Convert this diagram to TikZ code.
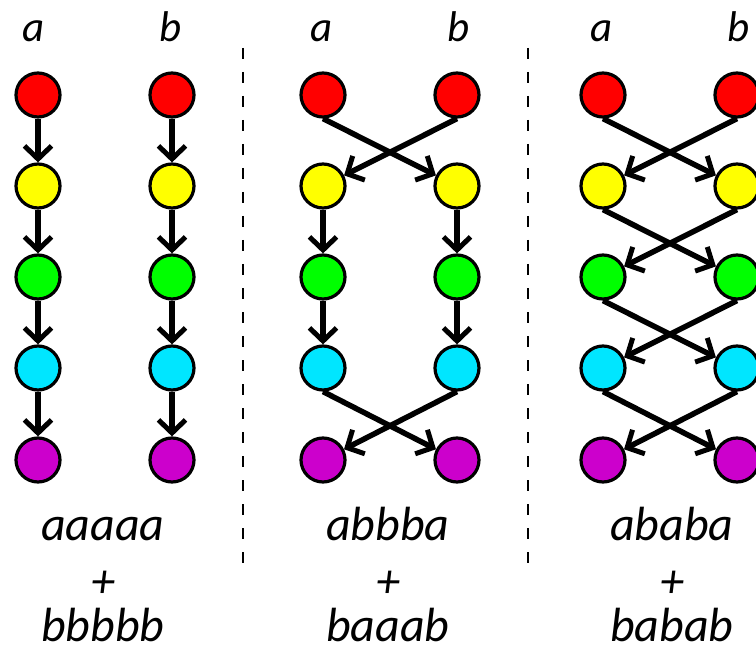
\documentclass[tikz,border=0pt]{standalone}
\usepackage{fontspec}
\setmainfont{Carlito}
\usetikzlibrary{arrows.meta}
\definecolor{cR}{RGB}{255,0,0}
\definecolor{cY}{RGB}{255,255,0}
\definecolor{cG}{RGB}{0,255,0}
\definecolor{cC}{RGB}{0,230,255}
\definecolor{cP}{RGB}{204,0,204}
\begin{document}
\begin{tikzpicture}[x=1pt,y=-1pt,
  ball/.style={circle,draw=black,line width=3.2pt,minimum size=44pt,inner sep=0pt},
  arr/.style={line width=5.5pt,-{Straight Barb[length=13pt,width=27pt,line width=5pt]}},
  lab/.style={anchor=base,font=\fontsize{43}{50}\selectfont\itshape,inner sep=0pt},
  word/.style={anchor=base,font=\fontsize{48}{55}\selectfont\itshape,inner sep=0pt},
  sep/.style={line width=2.8pt,dash pattern=on 11pt off 13pt}]
\useasboundingbox (0,0) rectangle (756,650);
% columns
\foreach \p/\xa/\xb in {1/38/172, 2/323/457, 3/603/737}{
  \foreach \r/\y/\c in {1/95/cR, 2/186/cY, 3/277/cG, 4/368/cC, 5/460/cP}{
    \node[ball,fill=\c] (p\p a\r) at (\xa,\y) {};
    \node[ball,fill=\c] (p\p b\r) at (\xb,\y) {};
  }
}
% top labels
\node[lab] (la1) at (34,42) {a};
\node[lab] (lb1) at (171,42) {b};
\node[lab] (la2) at (322,42) {a};
\node[lab] (lb2) at (459,42) {b};
\node[lab] (la3) at (602,42) {a};
\node[lab] (lb3) at (739,42) {b};
% panel 1
\foreach \i [evaluate=\i as \j using int(\i+1)] in {1,2,3,4}{
  \draw[arr] (p1a\i) -- (p1a\j);
  \draw[arr] (p1b\i) -- (p1b\j);
}
% panel 2
\draw[arr] (p2a1.south) -- (p2b2);
\draw[arr] (p2b1.south) -- (p2a2);
\draw[arr] (p2a2) -- (p2a3);
\draw[arr] (p2a3) -- (p2a4);
\draw[arr] (p2b2) -- (p2b3);
\draw[arr] (p2b3) -- (p2b4);
\draw[arr] (p2a4.south) -- (p2b5);
\draw[arr] (p2b4.south) -- (p2a5);
% panel 3
\foreach \i [evaluate=\i as \j using int(\i+1)] in {1,2,3,4}{
  \draw[arr] (p3a\i.south) -- (p3b\j);
  \draw[arr] (p3b\i.south) -- (p3a\j);
}
% separators
\coordinate (s1t) at (243,48); \coordinate (s1b) at (243,565);
\coordinate (s2t) at (528,48); \coordinate (s2b) at (528,565);
\draw[sep] (s1t) -- (s1b);
\draw[sep] (s2t) -- (s2b);
% bottom words
\node[word] (w1a) at (103,540) {aaaaa};
\node[word] (w1p) at (103,597) {+};
\node[word] (w1b) at (103,641) {bbbbb};
\node[word] (w2a) at (388,540) {abbba};
\node[word] (w2p) at (388,597) {+};
\node[word] (w2b) at (388,641) {baaab};
\node[word] (w3a) at (672,540) {ababa};
\node[word] (w3p) at (672,597) {+};
\node[word] (w3b) at (672,641) {babab};
\end{tikzpicture}
\end{document}
